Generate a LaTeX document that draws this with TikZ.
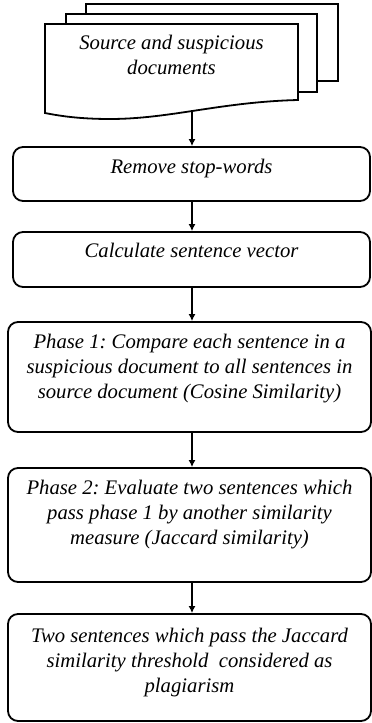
\documentclass[tikz,border=0pt]{standalone}
\usepackage{fontspec}
\setmainfont{Liberation Serif}
\usetikzlibrary{arrows.meta}
\frenchspacing

\begin{document}
\begin{tikzpicture}[
  x=1pt, y=-1pt,
  docline/.style={draw, line width=1.8pt, fill=white},
  stepbox/.style={draw, line width=1.8pt, rounded corners=10pt, align=center,
    font=\fontsize{20.7}{25}\selectfont\itshape},
  flow/.style={-{Latex[length=7pt, width=7pt]}, line width=1.6pt}
]
\useasboundingbox (0,0) rectangle (372,723);

% Document stack (back to front)
\draw[docline] (86,4) rectangle (338,81);
\draw[docline] (66,14) rectangle (317,92);
\draw[docline] (45,24) -- (298,24) -- (298,100)
  .. controls (220,102) and (170,119) .. (110,119)
  .. controls (80,119) and (60,116) .. (45,113) -- cycle;
\node[font=\fontsize{20.7}{25}\selectfont\itshape, align=center] (docs) at (171.5,54.5)
  {Source and suspicious\\documents};
\coordinate (docbot) at (192,111);

% Steps (top-down)
\node[stepbox, minimum width=357pt, minimum height=54pt, text depth=14.5pt] (rmstop) at (191.5,174)
  {Remove stop-words};
\node[stepbox, minimum width=357pt, minimum height=55pt, text depth=17.5pt] (sentvec) at (191.5,259.5)
  {Calculate sentence vector};
\node[stepbox, minimum width=363pt, minimum height=110pt, text depth=20.5pt] (phaseone) at (189.5,377)
  {Phase 1: Compare each sentence in a\\suspicious document to all sentences in\\source document (Cosine Similarity)};
\node[stepbox, minimum width=363pt, minimum height=114pt, text depth=24.5pt] (phasetwo) at (189.5,525)
  {Phase 2: Evaluate two sentences which\\pass phase 1 by another similarity\\measure (Jaccard similarity)};
\node[stepbox, minimum width=363pt, minimum height=107pt, text depth=13.5pt] (plag) at (189.5,667.5)
  {Two sentences which pass the Jaccard\\similarity threshold~ considered as\\plagiarism};

% Arrows
\draw[flow] (docbot) -- (docbot |- rmstop.north);
\draw[flow] (docbot |- rmstop.south) -- (docbot |- sentvec.north);
\draw[flow] (docbot |- sentvec.south) -- (docbot |- phaseone.north);
\draw[flow] (docbot |- phaseone.south) -- (docbot |- phasetwo.north);
\draw[flow] (docbot |- phasetwo.south) -- (docbot |- plag.north);

\end{tikzpicture}
\end{document}
